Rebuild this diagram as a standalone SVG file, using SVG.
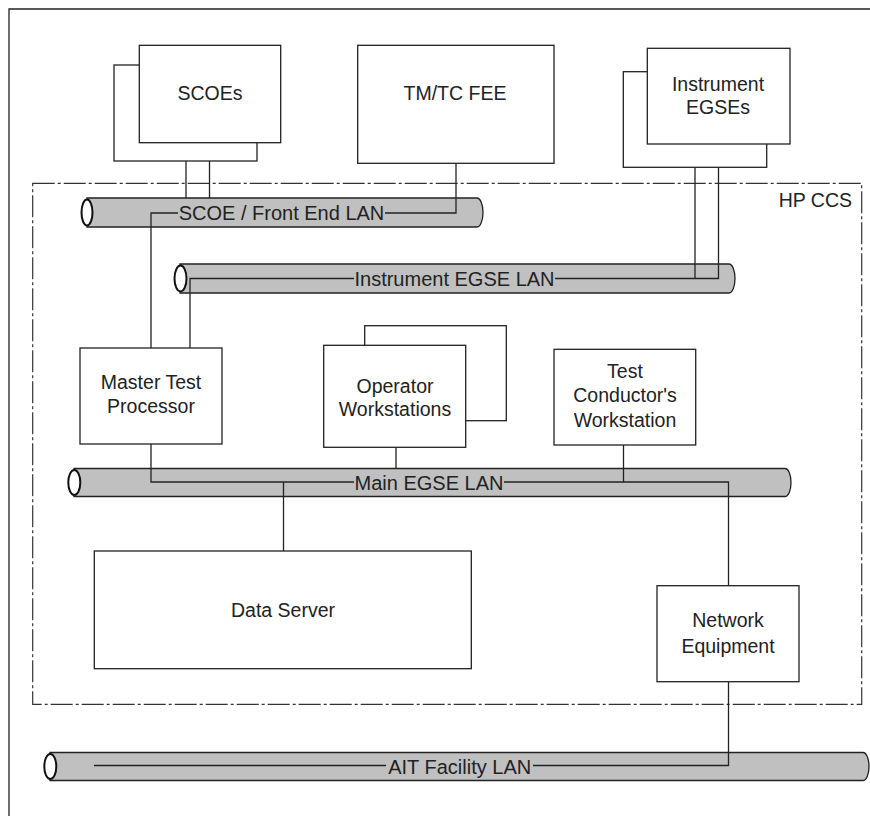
<svg xmlns="http://www.w3.org/2000/svg" width="870" height="816" viewBox="0 0 870 816">
<style>
text{font-family:"Liberation Sans",Arial,sans-serif;font-size:19.5px;fill:#222;text-anchor:middle}
.lan{font-size:20px}
.box{fill:#fff;stroke:#222;stroke-width:1.3}
.pipe{fill:#c0c0c0;stroke:#222;stroke-width:1.3}
.cap{fill:#fff;stroke:#111;stroke-width:2}
.ln{fill:none;stroke:#222;stroke-width:1.3}
</style>
<rect width="870" height="816" fill="#fff"/>
<path d="M9,816 V9 H870" class="ln"/>
<g id="hpccs">
<rect x="32.7" y="183.3" width="829" height="521" fill="none" stroke="#333" stroke-width="1.2" stroke-dasharray="22 3 3 3"/>
<text x="852" y="207" style="text-anchor:end">HP CCS</text>
</g>
<g id="lan-scoe">
<path class="pipe" d="M87,198 H477 A6,14.5 0 0 1 477,227 H87 Z"/>
<ellipse class="cap" cx="87" cy="212.5" rx="5.5" ry="13"/>
<text class="lan" x="281.5" y="219.5">SCOE / Front End LAN</text>
</g>
<g id="lan-instr">
<path class="pipe" d="M180,264 H729 A6,14.5 0 0 1 729,293 H180 Z"/>
<ellipse class="cap" cx="180.5" cy="278.5" rx="6" ry="13"/>
<text class="lan" x="454.5" y="285.5">Instrument EGSE LAN</text>
</g>
<g id="lan-main">
<path class="pipe" d="M74,468.5 H785 A6,14 0 0 1 785,496.5 H74 Z"/>
<ellipse class="cap" cx="74.3" cy="482.5" rx="6" ry="12.5"/>
<text class="lan" x="429" y="489.5">Main EGSE LAN</text>
</g>
<g id="lan-ait">
<path class="pipe" d="M50,752.5 H863 A6,14 0 0 1 863,780.5 H50 Z"/>
<ellipse class="cap" cx="50.3" cy="766.5" rx="6" ry="12.5"/>
<text class="lan" x="459.7" y="773.5">AIT Facility LAN</text>
</g>
<g id="connectors" class="ln">
<path d="M186,161 V198"/>
<path d="M209.5,143 V198"/>
<path d="M456,163.5 V213 H385"/>
<path d="M151,348 V213 H178"/>
<path d="M695,167 V278.5"/>
<path d="M718.5,144 V278.5 H555"/>
<path d="M190,348 V278.5 H354"/>
<path d="M151,444 V482 H354"/>
<path d="M504,482 H728.5 V586"/>
<path d="M396,447 V468.5"/>
<path d="M623.5,445 V482"/>
<path d="M283.5,482 V551"/>
<path d="M728.5,682 V765.5 H533"/>
<path d="M94,765.5 H386"/>
</g>
<g id="scoes">
<rect class="box" x="114" y="65" width="143" height="96"/>
<rect class="box" x="139.3" y="45.3" width="141.4" height="97.4"/>
<text x="210" y="99.5">SCOEs</text>
</g>
<g id="tmtc">
<rect class="box" x="357.7" y="45.3" width="196.3" height="118"/>
<text x="455" y="99.5">TM/TC FEE</text>
</g>
<g id="instr">
<rect class="box" x="623.3" y="71.7" width="143.4" height="95.6"/>
<rect class="box" x="647.3" y="48.3" width="142.7" height="95.7"/>
<text x="718" y="90.7">Instrument</text>
<text x="718" y="114.3">EGSEs</text>
</g>
<g id="mtp">
<rect class="box" x="80" y="348" width="142" height="96"/>
<text x="151" y="389">Master Test</text>
<text x="151" y="412.7">Processor</text>
</g>
<g id="opws">
<rect class="box" x="364.7" y="325.7" width="141.6" height="95"/>
<rect class="box" x="323.7" y="345.3" width="142" height="102"/>
<text x="395" y="392.5">Operator</text>
<text x="395" y="416">Workstations</text>
</g>
<g id="tcw">
<rect class="box" x="554" y="349.3" width="141.7" height="95.7"/>
<text x="625" y="378.3">Test</text>
<text x="625" y="401.7">Conductor's</text>
<text x="625" y="427">Workstation</text>
</g>
<g id="ds">
<rect class="box" x="94.3" y="551" width="377" height="117.7"/>
<text x="283" y="616.5">Data Server</text>
</g>
<g id="net">
<rect class="box" x="657" y="585.7" width="142" height="96"/>
<text x="728" y="627.3">Network</text>
<text x="728" y="652.7">Equipment</text>
</g>
</svg>
